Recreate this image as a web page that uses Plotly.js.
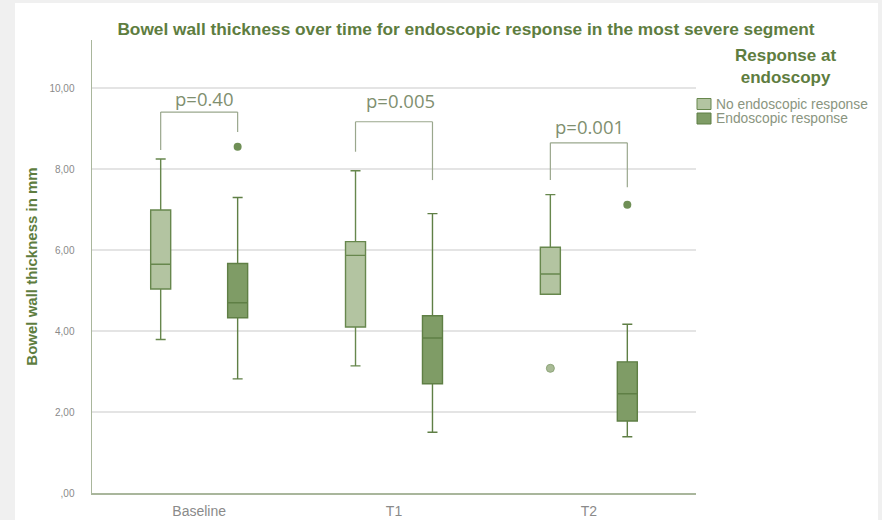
<!DOCTYPE html>
<html>
<head>
<meta charset="utf-8">
<script src="https://cdn.plot.ly/plotly-3.0.1.min.js"></script>
<style>
  html, body { margin: 0; padding: 0; background: #f0f0f0; width: 882px; height: 520px; overflow: hidden; }
  #chart { position: absolute; left: 15px; top: 3px; width: 863px; height: 517px; background: #ffffff; }
</style>
</head>
<body>
<div id="chart"></div>
<script>
// ---- data ----
const categories = ['Baseline', 'T1', 'T2'];
const seriesNames = ['No endoscopic response', 'Endoscopic response'];
const legendTitle = 'Response at<br>endoscopy';

const noRespLowerFence = [3.79, 3.14, 4.91];
const noRespQ1         = [5.04, 4.10, 4.91];
const noRespMedian     = [5.65, 5.87, 5.41];
const noRespQ3         = [6.99, 6.21, 6.07];
const noRespUpperFence = [8.25, 7.96, 7.37];
const noRespOutliers   = [[null], [null], [3.08]];

const respLowerFence = [2.82, 1.50, 1.39];
const respQ1         = [4.33, 2.70, 1.78];
const respMedian     = [4.70, 3.83, 2.45];
const respQ3         = [5.67, 4.38, 3.24];
const respUpperFence = [7.30, 6.90, 4.17];
const respOutliers   = [[8.55], [null], [7.12]];

const pValues = ['p=0.40', 'p=0.005', 'p=0.001'];

const yTickVals = [0, 2, 4, 6, 8, 10];
const yTickText = [',00', '2,00', '4,00', '6,00', '8,00', '10,00'];

// ---- bracket geometry (annotation positions, in y-axis units) ----
const bracketTop   = [9.41, 9.17, 8.65];
const bracketLeft  = [8.47, 8.43, 7.73];
const bracketRight = [8.92, 7.73, 7.55];
const labelY       = [9.75, 9.69, 9.06];
const labelShift   = [5, 6, 1];

const boxGap = 0.21;
const boxGroupGap = 0.74;
const half = 0.25 * (1 - boxGap); // centre offset of each box in a group

// plot area in page pixels (used only to place the legend block)
const M = { l: 77, r: 182, t: 37, b: 27 };
const W = 863, H = 517;
const plotW = W - M.l - M.r, plotH = H - M.t - M.b;
const px = v => (v - 15 - M.l) / plotW;           // page x -> paper x
const py = v => (H - M.b - (v - 3)) / plotH;      // page y -> paper y

const fills = ['#b3c4a1', '#7f9c66'];
const lines = ['#67874d', '#5f7f45'];

const traces = [
  {
    type: 'box', name: seriesNames[0],
    x: categories, y: noRespOutliers,
    q1: noRespQ1, median: noRespMedian, q3: noRespQ3,
    lowerfence: noRespLowerFence, upperfence: noRespUpperFence,
    boxpoints: 'outliers', jitter: 0, pointpos: 0, whiskerwidth: 0.5,
    fillcolor: fills[0], line: { color: lines[0], width: 1.4 },
    marker: { color: '#a9bb96', size: 8, line: { color: '#8ea57a', width: 1 } },
    hoverinfo: 'y'
  },
  {
    type: 'box', name: seriesNames[1],
    x: categories, y: respOutliers,
    q1: respQ1, median: respMedian, q3: respQ3,
    lowerfence: respLowerFence, upperfence: respUpperFence,
    boxpoints: 'outliers', jitter: 0, pointpos: 0, whiskerwidth: 0.5,
    fillcolor: fills[1], line: { color: lines[1], width: 1.4 },
    marker: { color: '#6f8f56', size: 8, line: { color: '#6f8f56', width: 0 } },
    hoverinfo: 'y'
  }
];

const shapes = [];
const annotations = [];
categories.forEach((c, i) => {
  const xl = i - half, xr = i + half;
  const sty = { color: '#9aa78d', width: 1.2 };
  shapes.push({ type: 'line', xref: 'x', yref: 'y', x0: xl, x1: xl, y0: bracketLeft[i], y1: bracketTop[i], line: sty });
  shapes.push({ type: 'line', xref: 'x', yref: 'y', x0: xl, x1: xr, y0: bracketTop[i], y1: bracketTop[i], line: sty });
  shapes.push({ type: 'line', xref: 'x', yref: 'y', x0: xr, x1: xr, y0: bracketTop[i], y1: bracketRight[i], line: sty });
  annotations.push({
    xref: 'x', yref: 'y', x: i, y: labelY[i], text: pValues[i], showarrow: false,
    xshift: labelShift[i],
    font: { family: 'Open Sans, Lato, sans-serif', size: 18.5, color: '#7f8f70' },
    xanchor: 'center', yanchor: 'middle'
  });
});

// ---- legend block (title + swatches + labels) ----
annotations.push({
  xref: 'paper', yref: 'paper', x: px(785), y: py(67), text: legendTitle, showarrow: false,
  xanchor: 'center', yanchor: 'middle', align: 'center',
  font: { family: 'Liberation Sans, Arial, sans-serif', size: 17, color: '#5e7d40', weight: 'bold' }
});
seriesNames.forEach((n, k) => {
  const cy = 104 + 14.5 * k;
  shapes.push({
    type: 'rect', xref: 'paper', yref: 'paper',
    x0: px(697), x1: px(711), y0: py(cy - 5.5), y1: py(cy + 5.5),
    fillcolor: fills[k], line: { color: lines[k], width: 1 }
  });
  annotations.push({
    xref: 'paper', yref: 'paper', x: px(714), y: py(cy), text: n, showarrow: false,
    xanchor: 'left', yanchor: 'middle',
    font: { family: 'Liberation Sans, Arial, sans-serif', size: 13.8, color: '#8a9580' }
  });
});

const layout = {
  width: W, height: H,
  paper_bgcolor: '#ffffff', plot_bgcolor: '#ffffff',
  margin: M,
  boxmode: 'group', boxgap: boxGap, boxgroupgap: boxGroupGap,
  font: { family: 'Liberation Sans, Arial, sans-serif', color: '#8a8a8a' },
  title: {
    text: 'Bowel wall thickness over time for endoscopic response in the most severe segment',
    font: { family: 'Liberation Sans, Arial, sans-serif', size: 17.3, color: '#5e7d40', weight: 'bold' },
    xref: 'container', yref: 'container', x: 451 / 863, xanchor: 'center', y: 1 - 26 / 517, yanchor: 'middle'
  },
  xaxis: {
    type: 'category', range: [-0.55, 2.55],
    showgrid: false, zeroline: false,
    showline: true, linecolor: '#a9b69c', linewidth: 2,
    ticks: '', ticklabelstandoff: 4,
    tickfont: { size: 14, color: '#8a8a8a' }
  },
  yaxis: {
    range: [0, 11.19],
    tickvals: yTickVals, ticktext: yTickText,
    showgrid: true, gridcolor: '#e4e4e4', gridwidth: 1.5,
    zeroline: false,
    showline: true, linecolor: '#a9b69c', linewidth: 1.5,
    ticks: '', ticklabelstandoff: 14,
    tickfont: { size: 10, color: '#8a8a8a' },
    title: {
      text: 'Bowel wall thickness in mm', standoff: 8,
      font: { size: 15, color: '#5e7d40', weight: 'bold' }
    }
  },
  showlegend: false,
  shapes: shapes,
  annotations: annotations
};

Plotly.newPlot('chart', traces, layout, { displayModeBar: false, staticPlot: true });
</script>
</body>
</html>
